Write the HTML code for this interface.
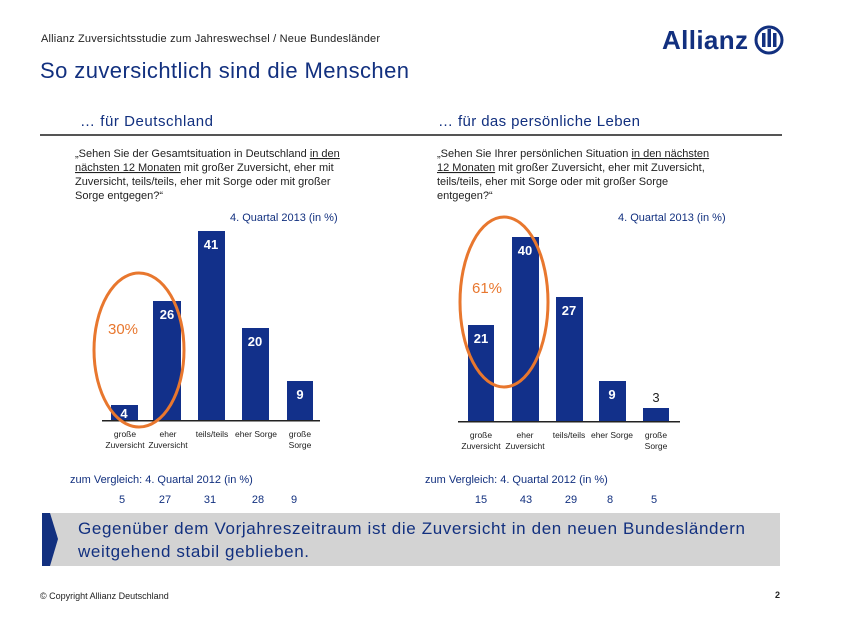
<!DOCTYPE html>
<html><head><meta charset="utf-8"><style>
body{margin:0;background:#fff;}
svg{display:block;font-family:"Liberation Sans",sans-serif;}
</style></head><body>
<svg width="858" height="618" viewBox="0 0 858 618" xmlns="http://www.w3.org/2000/svg">
<rect width="858" height="618" fill="#fff"/>
<text x="41" y="42" font-size="11" fill="#222" textLength="339">Allianz Zuversichtsstudie zum Jahreswechsel / Neue Bundesländer</text>
<text x="40" y="78" font-size="22" fill="#12307f" textLength="369">So zuversichtlich sind die Menschen</text>
<text x="662" y="49" font-size="26" font-weight="bold" fill="#12307f" textLength="86">Allianz</text>
<circle cx="769" cy="40" r="13" fill="none" stroke="#12307f" stroke-width="3"/>
<rect x="762" y="33" width="3.5" height="14" fill="#12307f"/>
<rect x="767.5" y="29" width="3.5" height="18" fill="#12307f"/>
<rect x="773" y="33" width="3.5" height="14" fill="#12307f"/>
<text x="80" y="126" font-size="15" fill="#12307f" textLength="133">… für Deutschland</text>
<text x="438" y="126" font-size="15" fill="#12307f" textLength="202">… für das persönliche Leben</text>
<rect x="40" y="134" width="742" height="2" fill="#555"/>
<g font-size="11" fill="#222">
<text x="75" y="157">„Sehen Sie der Gesamtsituation in Deutschland <tspan text-decoration="underline">in den</tspan></text>
<text x="75" y="171"><tspan text-decoration="underline">nächsten 12 Monaten</tspan> mit großer Zuversicht, eher mit</text>
<text x="75" y="185">Zuversicht, teils/teils, eher mit Sorge oder mit großer</text>
<text x="75" y="199">Sorge entgegen?“</text>
<text x="437" y="157">„Sehen Sie Ihrer persönlichen Situation <tspan text-decoration="underline">in den nächsten</tspan></text>
<text x="437" y="171"><tspan text-decoration="underline">12 Monaten</tspan> mit großer Zuversicht, eher mit Zuversicht,</text>
<text x="437" y="185">teils/teils, eher mit Sorge oder mit großer Sorge</text>
<text x="437" y="199">entgegen?“</text>
</g>
<text x="230" y="221" font-size="11" fill="#12307f">4. Quartal 2013 (in %)</text>
<text x="618" y="221" font-size="11" fill="#12307f">4. Quartal 2013 (in %)</text>
<g fill="#12308a">
<rect x="111" y="405" width="27" height="15"/>
<rect x="153" y="301" width="28" height="119"/>
<rect x="198" y="231" width="27" height="189"/>
<rect x="242" y="328" width="27" height="92"/>
<rect x="287" y="381" width="26" height="39"/>
<rect x="468" y="325" width="26" height="96"/>
<rect x="512" y="237" width="27" height="184"/>
<rect x="556" y="297" width="27" height="124"/>
<rect x="599" y="381" width="27" height="40"/>
<rect x="643" y="408" width="26" height="13"/>
</g>
<rect x="102" y="420" width="218" height="1.5" fill="#222"/>
<rect x="458" y="421" width="222" height="1.5" fill="#222"/>
<g font-size="13" font-weight="bold" fill="#fff" text-anchor="middle">
<text x="124" y="418">4</text>
<text x="167" y="319">26</text>
<text x="211" y="249">41</text>
<text x="255" y="346">20</text>
<text x="300" y="399">9</text>
<text x="481" y="343">21</text>
<text x="525" y="255">40</text>
<text x="569" y="315">27</text>
<text x="612" y="399">9</text>
</g>
<text x="656" y="402" font-size="13" fill="#222" text-anchor="middle">3</text>
<g font-size="8.5" fill="#222" text-anchor="middle">
<text x="125" y="437">große</text><text x="125" y="448">Zuversicht</text>
<text x="168" y="437">eher</text><text x="168" y="448">Zuversicht</text>
<text x="212" y="437">teils/teils</text>
<text x="256" y="437">eher Sorge</text>
<text x="300" y="437">große</text><text x="300" y="448">Sorge</text>
<text x="481" y="438">große</text><text x="481" y="449">Zuversicht</text>
<text x="525" y="438">eher</text><text x="525" y="449">Zuversicht</text>
<text x="569" y="438">teils/teils</text>
<text x="612" y="438">eher Sorge</text>
<text x="656" y="438">große</text><text x="656" y="449">Sorge</text>
</g>
<ellipse cx="139" cy="350" rx="45" ry="77" fill="none" stroke="#e8772e" stroke-width="3"/>
<ellipse cx="504" cy="302" rx="44" ry="85" fill="none" stroke="#e8772e" stroke-width="3"/>
<text x="108" y="334" font-size="15" fill="#e8772e">30%</text>
<text x="472" y="293" font-size="15" fill="#e8772e">61%</text>
<text x="70" y="483" font-size="11" fill="#12307f">zum Vergleich: 4. Quartal 2012 (in %)</text>
<text x="425" y="483" font-size="11" fill="#12307f">zum Vergleich: 4. Quartal 2012 (in %)</text>
<g font-size="11" fill="#12307f" text-anchor="middle">
<text x="122" y="503">5</text><text x="165" y="503">27</text><text x="210" y="503">31</text><text x="258" y="503">28</text><text x="294" y="503">9</text>
<text x="481" y="503">15</text><text x="526" y="503">43</text><text x="571" y="503">29</text><text x="610" y="503">8</text><text x="654" y="503">5</text>
</g>
<rect x="42" y="513" width="738" height="53" fill="#d3d3d3"/>
<polygon points="42,513 50,513 58,539 50,566 42,566" fill="#12307f"/>
<text x="78" y="534" font-size="17" fill="#12307f" textLength="667">Gegenüber dem Vorjahreszeitraum ist die Zuversicht in den neuen Bundesländern</text>
<text x="78" y="557" font-size="17" fill="#12307f" textLength="231">weitgehend stabil geblieben.</text>
<text x="40" y="599" font-size="9" fill="#222">© Copyright Allianz Deutschland</text>
<text x="780" y="598" font-size="9" font-weight="bold" fill="#222" text-anchor="end">2</text>
</svg>
</body></html>
